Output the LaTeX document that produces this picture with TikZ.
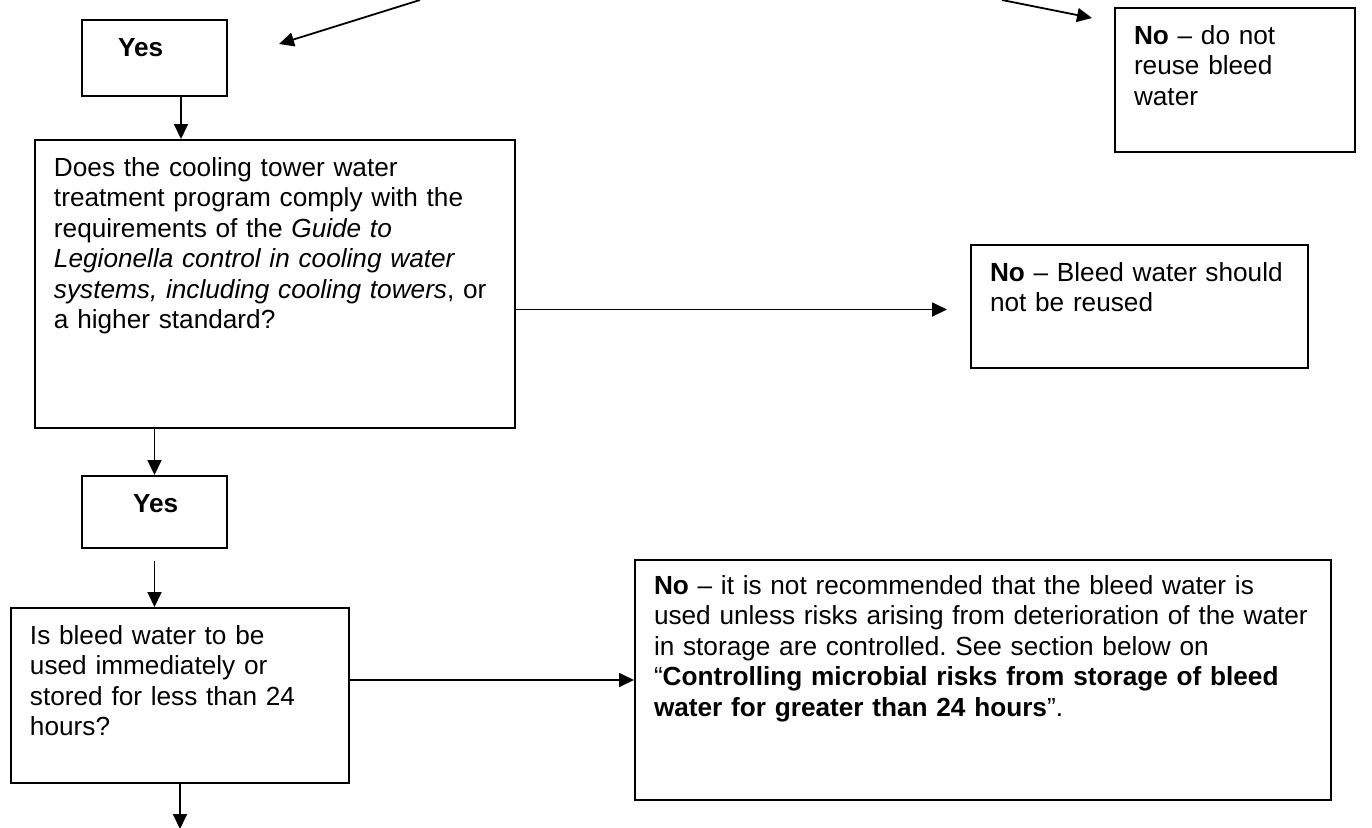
\documentclass[tikz,border=0pt]{standalone}
\usepackage{fontspec}
\setmainfont{Liberation Sans}
\frenchspacing
\usetikzlibrary{arrows.meta,calc}

\begin{document}
\begin{tikzpicture}
  [
    x=0.5pt, y=-0.5pt,
    >={Triangle[length=7.5pt, width=7pt]},
    block/.style =
      {draw, rectangle, anchor=north west, align=left, line width=1pt,
       inner xsep=9.5pt, inner ysep=0pt, text height=18pt,
       font=\fontsize{13.1pt}{15.25pt}\selectfont},
    link/.style =
      {->, line width=0.9pt}
  ]
  \useasboundingbox (0,0) rectangle (1372,827);

  \node [block, text width= 53.5pt, text depth= 20pt]   at (  81, 19) (y1)
    {\hspace*{8.5pt}\textbf{Yes}};
  \node [block, text width=101pt,   text depth= 54pt]   at (1114,  7) (n1)
    {\textbf{No} – do not\\ reuse bleed\\ water};
  \node [block, text width=221pt,   text depth=126pt]   at (  34,139) (q1)
    {Does the cooling tower water\\
     treatment program comply with the\\
     requirements of the \textit{Guide to}\\
     \textit{Legionella control in cooling water}\\
     \textit{systems, including cooling towers}, or\\
     a higher standard?};
  \node [block, text width=149.5pt, text depth= 43.5pt] at ( 970,244) (n2)
    {\textbf{No} – Bleed water should\\ not be reused};
  \node [block, text width= 53.5pt, text depth= 18pt]   at (  81,475) (y2)
    {\hspace*{16pt}\textbf{Yes}};
  \node [block, text width=150pt,   text depth= 69.5pt] at (  10,607) (q2)
    {Is bleed water to be\\ used immediately or\\ stored for less than 24\\ hours?};
  \node [block, text width=329pt,   text height=17pt, text depth=103pt] at (634,559) (n3)
    {\textbf{No} – it is not recommended that the bleed water is\\
     used unless risks arising from deterioration of the water\\
     in storage are controlled. See section below on\\
     “\textbf{Controlling microbial risks from storage of bleed}\\
     \textbf{water for greater than 24 hours}”.};

  \coordinate (c1) at ( 420,0);
  \coordinate (c2) at (1002,0);
  \coordinate (e2) at ($(n2.west)+(-23,3)$);
  \coordinate (s1) at ($(y1.south)+(26.5,0)$);
  \coordinate (s2) at ($(y2.south)+(0,12)$);
  \coordinate (d)  at ($(q2.south)+(0,45)$);

  \draw[link] (c1)                   -- ($(y1.east)+(51,-14)$);
  \draw[link] (c2)                   -- ($(n1.north west)+(-22,11)$);
  \draw[link] (s1)                   -- (s1 |- q1.north);
  \draw[link] (q1.east |- e2)        -- (e2);
  \draw[link] (y2.north |- q1.south) -- (y2.north);
  \draw[link] (s2)                   -- (s2 |- q2.north);
  \draw[link] (q2.east |- n3.west)   -- (n3.west);
  \draw[link] (q2.south)             -- (d);

\end{tikzpicture}
\end{document}
